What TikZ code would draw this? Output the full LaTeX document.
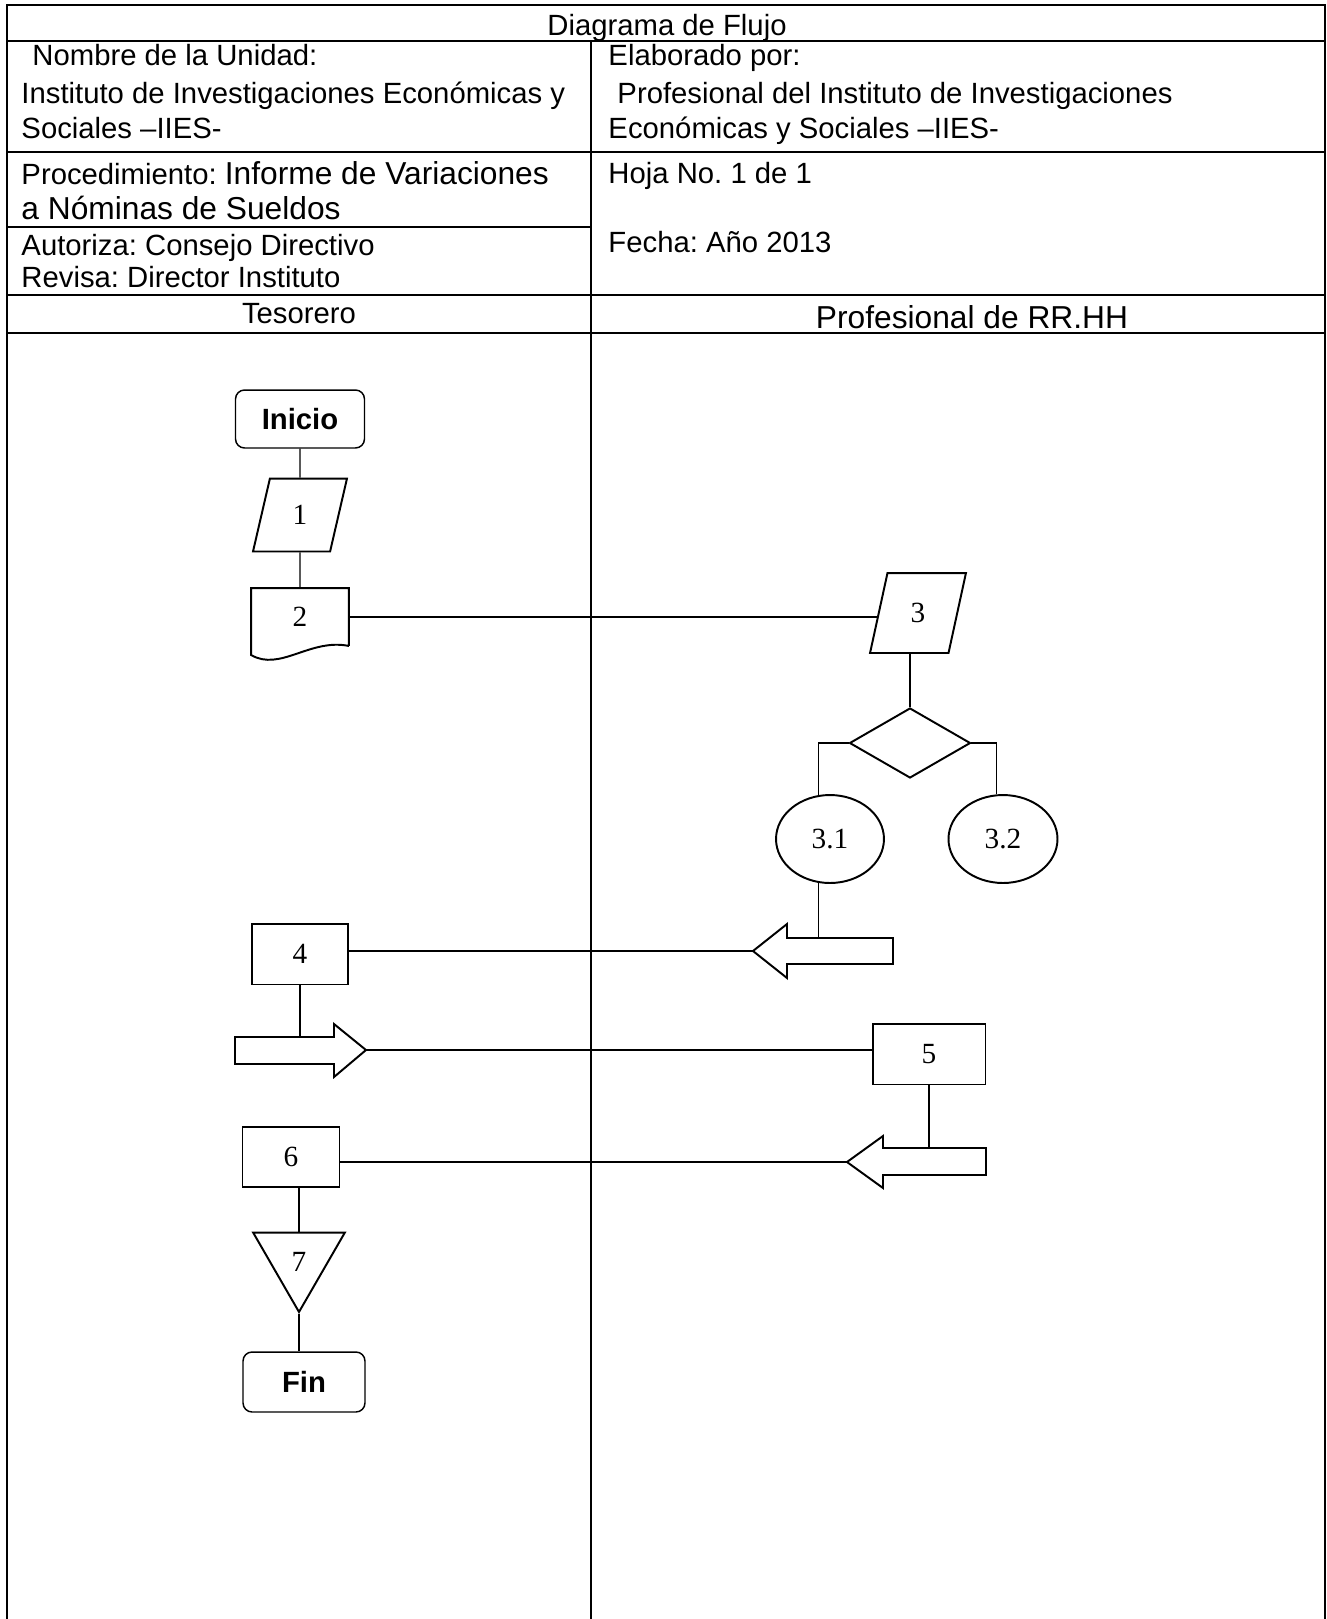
\documentclass[tikz,border=0pt]{standalone}
\usepackage{fontspec}
\setmainfont{Liberation Sans}
\newfontfamily\numfont{Liberation Serif}
\usetikzlibrary{shapes.geometric,calc}
\frenchspacing
\begin{document}
\begin{tikzpicture}[x=0.0144cm,y=-0.0144cm,
		tabla/.style={line width=1.2pt},
		forma/.style={draw,line width=0.8pt,inner sep=0pt,font=\numfont\fontsize{12}{14}\selectfont},
		terminal/.style={draw,line width=0.6pt,rounded corners=0.13cm,inner sep=0pt,font=\bfseries\fontsize{12}{14}\selectfont},
		datos/.style={forma,trapezium,trapezium left angle=78,trapezium right angle=102,trapezium stretches=true},
		linea/.style={line width=0.55pt},
		txt/.style={anchor=base west,inner sep=0pt,font=\fontsize{12}{14}\selectfont}]
		\useasboundingbox (0,0) rectangle (1327,1619);
		\draw[tabla] (7,1619) -- (7,5) -- (1325,5) -- (1325,1619);
		\draw[tabla] (7,41) -- (1325,41);
		\draw[tabla] (7,152) -- (1325,152);
		\draw[tabla] (7,227) -- (591,227);
		\draw[tabla] (7,295) -- (1325,295);
		\draw[tabla] (7,333) -- (1325,333);
		\draw[tabla] (591,41) -- (591,1619);

		\node[txt,anchor=base] (titulo) at (667,35) {Diagrama de Flujo};
		\node[txt] (unidad) at (32,65) {Nombre de la Unidad:};
		\node[txt] (unidad2) at (21,103) {Instituto de Investigaciones Económicas y};
		\node[txt] (unidad3) at (21,138) {Sociales –IIES-};
		\node[txt] (elab) at (608,65) {Elaborado por:};
		\node[txt] (elab2) at (617,103) {Profesional del Instituto de Investigaciones};
		\node[txt] (elab3) at (608,138) {Económicas y Sociales –IIES-};
		\node[txt] (proc) at (21,184) {Procedimiento: {\fontsize{13}{15}\selectfont Informe de Variaciones}};
		\node[txt,font=\fontsize{13}{15}\selectfont] (proc2) at (21,219) {a Nóminas de Sueldos};
		\node[txt] (autoriza) at (21,255) {Autoriza: Consejo Directivo};
		\node[txt] (revisa) at (21,287) {Revisa: Director Instituto};
		\node[txt] (hoja) at (608,183) {Hoja No. 1 de 1};
		\node[txt] (fecha) at (608,252) {Fecha: Año 2013};
		\node[txt,anchor=base] (tesorero) at (299,323) {Tesorero};
		\node[txt,anchor=base,font=\fontsize{13}{15}\selectfont] (rrhh) at (972,328) {Profesional de RR.HH};

		\node[terminal,minimum width=1.858cm,minimum height=0.835cm] (inicio) at (300,419) {Inicio};
		\node[datos,minimum width=1.354cm,minimum height=1.051cm] (n1) at (300,515) {1};
		\node[forma,draw=none,minimum width=1.382cm,minimum height=0.806cm] (n2) at (300,617) {2};
		\draw[line width=0.8pt] (n2.south east) -- (n2.north east) -- (n2.north west) -- ($(n2.south west)+(0,9)$) .. controls (280,672) and (310,638) .. (n2.south east);
		\node[datos,minimum width=1.382cm,minimum height=1.152cm] (n3) at (918,613) {3};
		\node[forma,diamond,minimum width=1.742cm,minimum height=1.008cm] (d) at (910,743) {};
		\node[forma,ellipse,minimum width=1.555cm,minimum height=1.267cm] (e31) at (830,839) {3.1};
		\node[forma,ellipse,minimum width=1.57cm,minimum height=1.267cm] (e32) at (1003,839) {3.2};
		\node[forma,minimum width=1.382cm,minimum height=0.878cm] (n4) at (300,954) {4};
		\node[forma,minimum width=1.627cm,minimum height=0.878cm] (n5) at (929,1054) {5};
		\node[forma,minimum width=1.397cm,minimum height=0.864cm] (n6) at (291,1157) {6};
		\node[forma,regular polygon,regular polygon sides=3,regular polygon rotate=180,minimum size=1.526cm] (n7) at (299,1259) {};
		\node[font=\numfont\fontsize{12}{14}\selectfont] (n7t) at (299,1262) {7};
		\node[terminal,minimum width=1.757cm,minimum height=0.864cm] (fin) at (304,1382) {Fin};

		\coordinate (a1) at (753,951);
		\coordinate (a1top) at (830,938);
		\draw[line width=0.8pt] (a1) -- ++(34,-27) -- ++(0,14) -- ++(106,0) -- ++(0,26) -- ++(-106,0) -- ++(0,14) -- cycle;
		\coordinate (a2) at (366,1050);
		\coordinate (a2top) at (300,1037);
		\draw[line width=0.8pt] (a2) -- ++(-32,-26) -- ++(0,13) -- ++(-99,0) -- ++(0,27) -- ++(99,0) -- ++(0,13) -- cycle;
		\coordinate (a3) at (847,1162);
		\coordinate (a3top) at (920,1148);
		\draw[line width=0.8pt] (a3) -- ++(36,-26) -- ++(0,12) -- ++(103,0) -- ++(0,27) -- ++(-103,0) -- ++(0,13) -- cycle;

		\draw[linea] (inicio) -- (n1);
		\draw[linea] (n1) -- (n2);
		\draw[linea] (n2.east) -- (n2.east -| n3.west);
		\draw[linea] (n3.south -| d.north) -- (d.north);
		\draw[linea] (d.west) -| (e31.105);
		\draw[linea] (d.east) -| (e32.98);
		\draw[linea] (e31.255) -- (e31.255 |- a1top);
		\draw[linea] (n4.east |- a1) -- (a1);
		\draw[linea] (n4.south) -- (n4.south |- a2top);
		\draw[linea] (a2) -- (a2 -| n5.west);
		\draw[linea] (n5.south) -- (n5.south |- a3top);
		\draw[linea] (a3) -- (a3 -| n6.east);
		\draw[linea] (n6.south -| n7.north) -- (n7.north);
		\draw[linea] (n7.south) -- (n7.south |- fin.north);
	\end{tikzpicture}
\end{document}
